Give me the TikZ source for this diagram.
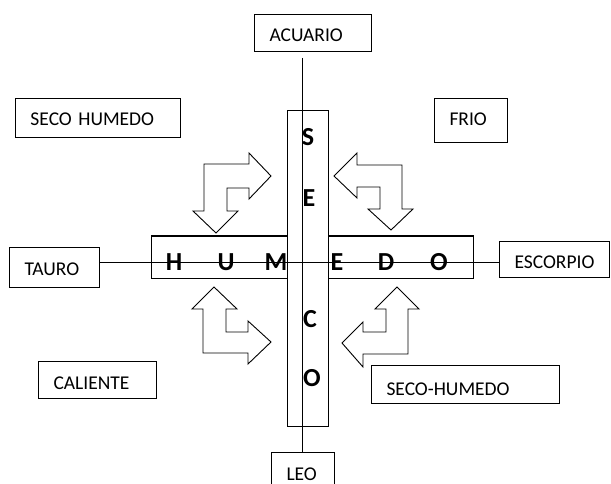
\documentclass[tikz,border=0pt]{standalone}
\usepackage{fontspec}
\setmainfont{Carlito}
\tikzset{
  lbox/.style={draw, line width=1pt, rectangle, anchor=north west, inner xsep=15pt, inner ysep=0pt,
    text height=27.5pt, align=left, font=\fontsize{19.5}{22}\selectfont},
  bar/.style={draw, line width=1pt, fill=white, rectangle, inner sep=0pt},
  big/.style={font=\fontsize{26}{30}\selectfont\bfseries, anchor=base, inner sep=0pt},
  bentarrow/.style={draw, line width=0.9pt, fill=white, line join=miter},
  conn/.style={line width=1pt}
}
\begin{document}
\begin{tikzpicture}[x=1pt, y=-1pt]
\useasboundingbox (0,0) rectangle (611,484);
\clip (0,0) rectangle (611,484);
% label boxes
\node[lbox, text width=87pt, text depth=9.5pt] (acu) at (254,14) {ACUARIO};
\node[lbox, text width=135pt, text depth=11.5pt] (sh1) at (15,98) {SECO HUMEDO};
\node[lbox, text width=43pt, text depth=16.5pt] (fri) at (434,98) {FRIO};
\node[lbox, text width=60pt, text depth=12.5pt] (tau) at (9,247) {TAURO};
\node[lbox, text width=88pt, text depth=9.5pt] (cal) at (38,361) {CALIENTE};
\node[lbox, text width=80pt, text depth=8.5pt] (esc) at (499,241) {ESCORPIO};
\node[lbox, text width=158pt, text height=29.5pt, text depth=8.5pt] (sh2) at (371,365) {SECO-HUMEDO};
\node[lbox, text width=33pt, text depth=14pt] (leo) at (271,452) {LEO};
% bars
\node[bar, minimum width=322pt, minimum height=42pt] (hbar) at (312,257) {};
\node[bar, minimum width=41pt, minimum height=315pt] (vbar) at (307.5,268.5) {};
% connectors
\coordinate (vtop) at (302,58);
\coordinate (hy) at (0,262.5);
\draw[conn] (vtop) -- (vtop |- leo.north);
\draw[conn] (tau.east |- hy) -- (esc.west |- hy);
% letters
\node[big] (lh) at (174,270) {H};
\node[big] (lu) at (226,270) {U};
\node[big] (lm) at (276,270) {M};
\node[big] (le) at (337,270) {E};
\node[big] (ld) at (386,270) {D};
\node[big] (lo) at (439,270) {O};
\node[big] (vs) at (308,145.5) {S};
\node[big] (ve) at (309,207) {E};
\node[big] (vc) at (310,327) {C};
\node[big] (vo) at (312,386) {O};
% bent arrows
\draw[bentarrow] (204,211) -- (193,211) -- (216,233) -- (238,211) -- (227,211) -- (227,188) -- (249,188)
  -- (249,199) -- (271,176) -- (249,153) -- (249,164) -- (204,164) -- cycle;
\draw[bentarrow] (402,209) -- (413,209) -- (391,230) -- (368,209) -- (380,209) -- (380,187) -- (357,187)
  -- (357,198) -- (334,176) -- (357,153) -- (357,165) -- (402,165) -- cycle;
\draw[bentarrow] (203,309) -- (192,309) -- (214,287) -- (237,309) -- (226,309) -- (226,332) -- (248,332)
  -- (248,321) -- (271,342) -- (248,364) -- (248,353) -- (203,353) -- cycle;
\draw[bentarrow] (408,309) -- (419,309) -- (397,287) -- (375,309) -- (386,309) -- (386,332) -- (363,332)
  -- (363,322) -- (342,343) -- (363,367) -- (363,354) -- (408,354) -- cycle;
\end{tikzpicture}
\end{document}
